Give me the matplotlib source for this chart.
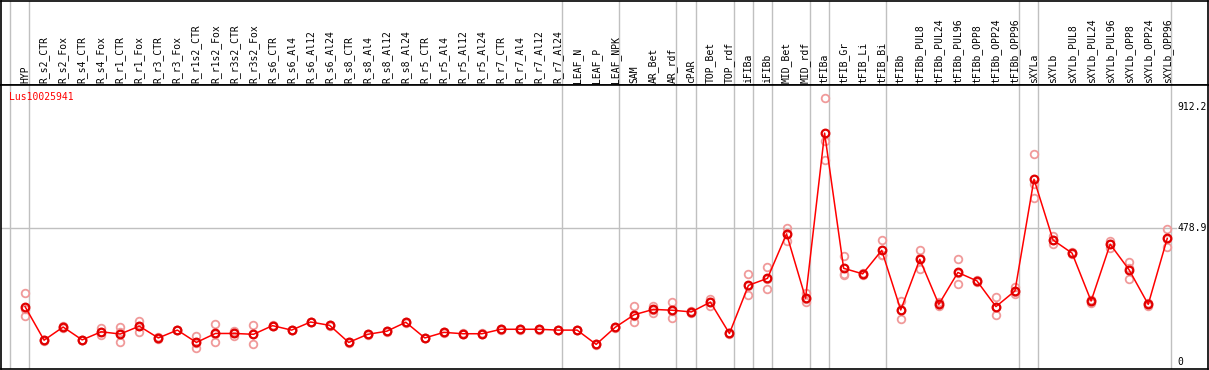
import matplotlib
matplotlib.use("Agg")
import matplotlib.pyplot as plt

# categories (x axis, drawn as rotated header labels)
samples = ["HYP", "R_s2_CTR", "R_s2_Fox", "R_s4_CTR", "R_s4_Fox", "R_r1_CTR", "R_r1_Fox",
           "R_r3_CTR", "R_r3_Fox", "R_r1s2_CTR", "R_r1s2_Fox", "R_r3s2_CTR", "R_r3s2_Fox",
           "R_s6_CTR", "R_s6_Al4", "R_s6_Al12", "R_s6_Al24", "R_s8_CTR", "R_s8_Al4",
           "R_s8_Al12", "R_s8_Al24", "R_r5_CTR", "R_r5_Al4", "R_r5_Al12", "R_r5_Al24",
           "R_r7_CTR", "R_r7_Al4", "R_r7_Al12", "R_r7_Al24", "LEAF_N", "LEAF_P", "LEAF_NPK",
           "SAM", "AR_Bet", "AR_rdf", "cPAR", "TOP_Bet", "TOP_rdf", "iFIBa", "iFIBb",
           "MID_Bet", "MID_rdf", "tFIBa", "tFIB_Gr", "tFIB_Li", "tFIB_Bi", "tFIBb",
           "tFIBb_PUL8", "tFIBb_PUL24", "tFIBb_PUL96", "tFIBb_OPP8", "tFIBb_OPP24",
           "tFIBb_OPP96", "sXYLa", "sXYLb", "sXYLb_PUL8", "sXYLb_PUL24", "sXYLb_PUL96",
           "sXYLb_OPP8", "sXYLb_OPP24", "sXYLb_OPP96"]

# mean expression
means = [198, 78, 125, 79, 108, 100, 128, 86, 114, 70, 102, 102, 99,
         130, 114, 143, 131, 70, 99, 110, 142, 86, 106, 101, 101,
         117, 117, 117, 114, 114, 63, 124,
         169, 188, 185, 179, 214, 102, 274, 299,
         458, 228, 818, 335, 315, 399, 186,
         367, 206, 320, 290, 198, 254,
         653, 436, 389, 218, 421, 329, 206, 442]

# replicate values
rep_a = [245, 80, 127, 80, 120, 124, 146, 88, 115, 92, 136, 111, 131,
         131, 115, 144, 132, 71, 100, 111, 143, 87, 107, 102, 102,
         118, 118, 118, 115, 115, 64, 125,
         200, 201, 214, 182, 226, 104, 313, 340,
         478, 245, 942, 379, 318, 435, 218,
         399, 214, 367, 292, 231, 269,
         742, 452, 392, 212, 432, 356, 200, 474]
rep_b = [190, 75, 123, 77, 108, 106, 128, 84, 113, 68, 101, 102, 100,
         129, 113, 142, 130, 69, 98, 109, 141, 85, 105, 100, 100,
         116, 116, 116, 113, 113, 62, 123,
         163, 187, 184, 176, 216, 101, 271, 298,
         461, 226, 790, 313, 312, 381, 186,
         370, 204, 317, 290, 195, 250,
         636, 436, 389, 222, 423, 335, 206, 440]
rep_c = [165, 78, 125, 79, 97, 70, 108, 86, 114, 51, 70, 94, 66,
         130, 114, 143, 131, 70, 99, 110, 142, 86, 106, 101, 101,
         117, 117, 117, 114, 114, 63, 124,
         144, 176, 156, 179, 200, 102, 238, 260,
         434, 213, 722, 311, 314, 382, 154,
         331, 200, 278, 287, 167, 242,
         585, 421, 385, 220, 406, 296, 212, 412]

# group boundaries (after these sample indices)
group_ends = [-1, 0, 28, 31, 34, 35, 37, 38, 39, 41, 42, 45, 52, 53, 60]
ref_lines = [912.2, 478.9, 0]
gene = "Lus10025941"

W, H = 1209, 370
fig = plt.figure(figsize=(W / 100, H / 100), dpi=100)
head_h = 85
hdr = fig.add_axes([0.5 / W, 1 - head_h / H, 1207.5 / W, head_h / H - 0.5 / H])
ax = fig.add_axes([0.5 / W, 1.0 / H, 1207.5 / W, (H - head_h - 1.0) / H])

xlim = (-1.29, 62.14)
for a in (hdr, ax):
    a.set_xlim(*xlim)
    a.set_xticks([])
    a.set_yticks([])
    for s in a.spines.values():
        s.set_color("black")
        s.set_linewidth(1.2)
    for g in group_ends:
        a.axvline(g + 0.22, color="#c0c0c0", lw=1, zorder=0)

mono = "DejaVu Sans Mono"
hdr.set_ylim(0, head_h)
for i, name in enumerate(samples):
    hdr.text(i, 2.5, name, rotation=90, ha="center", va="bottom",
             fontsize=7, family=mono, color="black")

ax.set_ylim(-25, 990)
ax.plot([xlim[0], 60.45], [478.9, 478.9], color="#c0c0c0", lw=1, zorder=0)
for v in ref_lines:
    ax.text(60.55, v, f"{v:g}", ha="left", va="center", fontsize=7, family=mono,
            color="black")

xs = list(range(len(samples)))
for reps in (rep_a, rep_b, rep_c):
    ax.plot(xs, reps, ls="none", marker="o", ms=5.5, mfc="none",
            mec="#f09a9a", mew=1.3, zorder=2)
ax.plot(xs, means, color="red", lw=1.1, marker="o", ms=5.5, mfc="none",
        mec="#e00000", mew=1.6, zorder=3)

fig.text(9.5 / W, 1 - 97 / H, gene, ha="left", va="center", fontsize=7,
         family=mono, color="red")

fig.savefig("out.png", dpi=100)
